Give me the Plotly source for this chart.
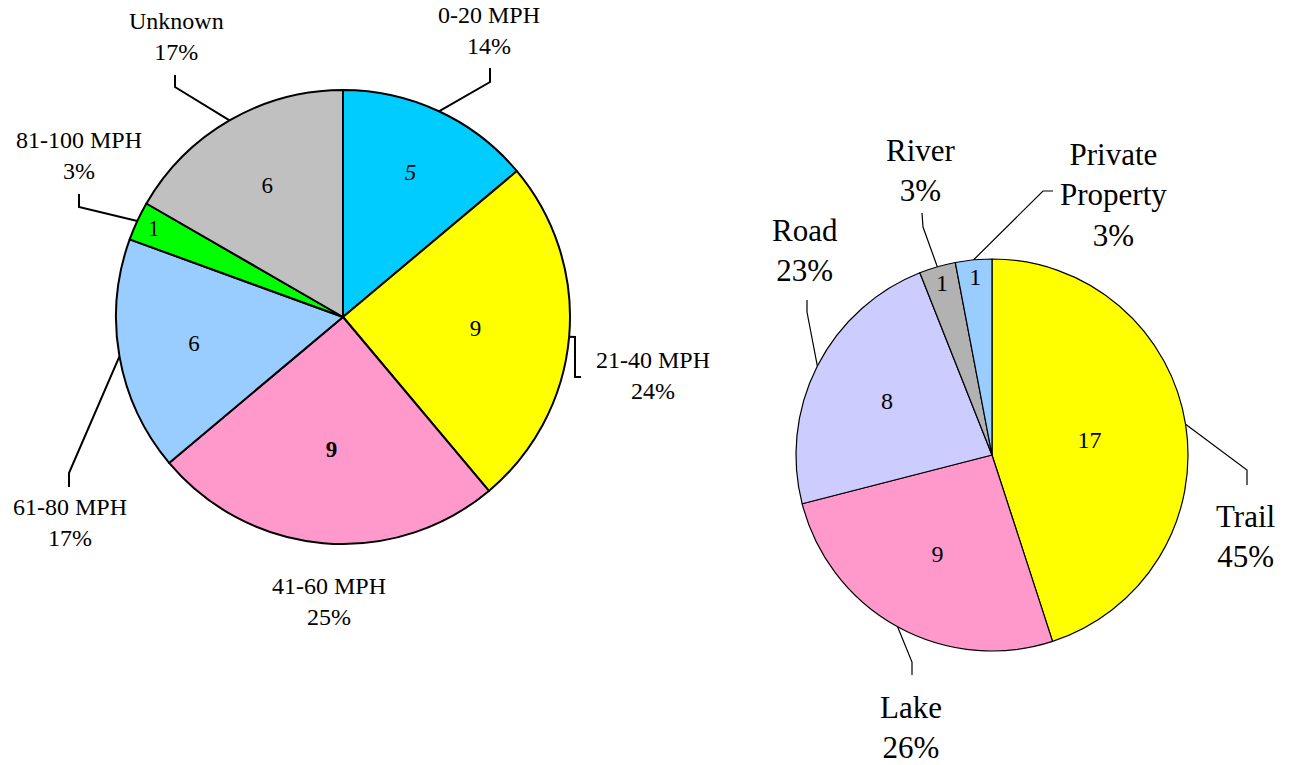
import math
import plotly.graph_objects as go

W, H = 1291, 765

# ---------------- data ----------------
speed_labels = ["0-20 MPH", "21-40 MPH", "41-60 MPH", "61-80 MPH", "81-100 MPH", "Unknown"]
speed_counts = [5, 9, 9, 6, 1, 6]
speed_pct_labels = ["14%", "24%", "25%", "17%", "3%", "17%"]
speed_colors = ["#00CCFF", "#FFFF00", "#FF99CC", "#99CCFF", "#00FF00", "#C0C0C0"]

place_labels = ["Trail", "Lake", "Road", "River", "Private<br>Property"]
place_counts = [17, 9, 8, 1, 1]
place_pct = [45, 26, 23, 3, 3]
place_colors = ["#FFFF00", "#FF99CC", "#CCCCFF", "#B2B2B2", "#99CCFF"]

# ---------------- layout constants (pixels) ----------------
L_CX, L_CY, L_R = 343, 317, 227
R_CX, R_CY, R_R = 992, 455, 196

# label centres and leader bends/ends (pixels)
speed_label_pos = [(489, 31), (653, 375), (329, 601), (70, 522), (79, 156), (176, 36)]
speed_leaders = [
    [(490, 82), (490, 68)],
    [(575, 337), (575, 377), (581, 377)],
    None,
    [(69, 473), (69, 487)],
    [(79, 207), (79, 194)],
    [(175, 87), (175, 75)],
]
place_label_pos = [(1245, 536), (911, 727), (805, 251), (921, 170), (1113, 195)]
place_leaders = [
    [(1247, 470), (1247, 485)],
    [(912, 662), (912, 675)],
    [(807, 312), (807, 300)],
    [(923, 227), (922, 213)],
    [(1043, 191), (1053, 191)],
]

FONT = "Liberation Serif, Times New Roman, serif"


def px(x, y):
    return x / W, 1 - y / H


def domain(cx, cy, r):
    x0, y1 = px(cx - r, cy - r)
    x1, y0 = px(cx + r, cy + r)
    return dict(x=[x0, x1], y=[y0, y1])


def edge_points(values, cx, cy, r):
    tot = float(sum(values))
    pts, cum = [], 0.0
    for v in values:
        th = 2 * math.pi * (cum + v / 2.0) / tot
        pts.append((cx + r * math.sin(th), cy - r * math.cos(th)))
        cum += v
    return pts


speed_text = [str(v) for v in speed_counts]
speed_text[0] = "<i>" + speed_text[0] + "</i>"
speed_text[2] = "<b>" + speed_text[2] + "</b>"

fig = go.Figure()
fig.add_trace(go.Pie(
    values=speed_counts, labels=speed_labels, text=speed_text,
    textinfo="text", textposition="inside", insidetextorientation="horizontal",
    sort=False, direction="clockwise", rotation=0,
    marker=dict(colors=speed_colors, line=dict(color="black", width=2)),
    textfont=dict(family=FONT, size=23, color="black"),
    domain=domain(L_CX, L_CY, L_R), showlegend=False, hoverinfo="label+value",
))
fig.add_trace(go.Pie(
    values=place_pct, labels=place_labels, text=[str(c) for c in place_counts],
    textinfo="text", textposition="inside", insidetextorientation="horizontal",
    sort=False, direction="clockwise", rotation=0,
    marker=dict(colors=place_colors, line=dict(color="black", width=1.2)),
    textfont=dict(family=FONT, size=24, color="black"),
    domain=domain(R_CX, R_CY, R_R), showlegend=False, hoverinfo="label+value",
))

annotations, shapes = [], []


def add_leader(start, rest, width):
    pts = [start] + rest
    d = ""
    for i, (x, y) in enumerate(pts):
        fx, fy = px(x, y)
        d += ("M" if i == 0 else "L") + f"{fx},{fy} "
    shapes.append(dict(type="path", xref="paper", yref="paper", path=d.strip(),
                       line=dict(color="black", width=width)))


for lab, pct, pos, lead, e in zip(speed_labels, speed_pct_labels, speed_label_pos,
                                  speed_leaders, edge_points(speed_counts, L_CX, L_CY, L_R)):
    fx, fy = px(*pos)
    annotations.append(dict(x=fx, y=fy, xref="paper", yref="paper", showarrow=False,
                            xanchor="center", yanchor="middle",
                            text=f"{lab}<br>{pct}", align="center",
                            font=dict(family=FONT, size=24, color="black")))
    if lead:
        add_leader(e, lead, 2)

for lab, pct, pos, lead, e in zip(place_labels, place_pct, place_label_pos,
                                  place_leaders, edge_points(place_pct, R_CX, R_CY, R_R)):
    fx, fy = px(*pos)
    annotations.append(dict(x=fx, y=fy, xref="paper", yref="paper", showarrow=False,
                            xanchor="center", yanchor="middle",
                            text=f"{lab}<br>{pct}%", align="center",
                            font=dict(family=FONT, size=31, color="black")))
    if lead:
        add_leader(e, lead, 1.2)

fig.update_layout(
    width=W, height=H, margin=dict(l=0, r=0, t=0, b=0),
    paper_bgcolor="white", plot_bgcolor="white",
    annotations=annotations, shapes=shapes,
)

fig.write_html("out.html", config={"displayModeBar": False},
               post_script="document.body.style.margin='0';")
